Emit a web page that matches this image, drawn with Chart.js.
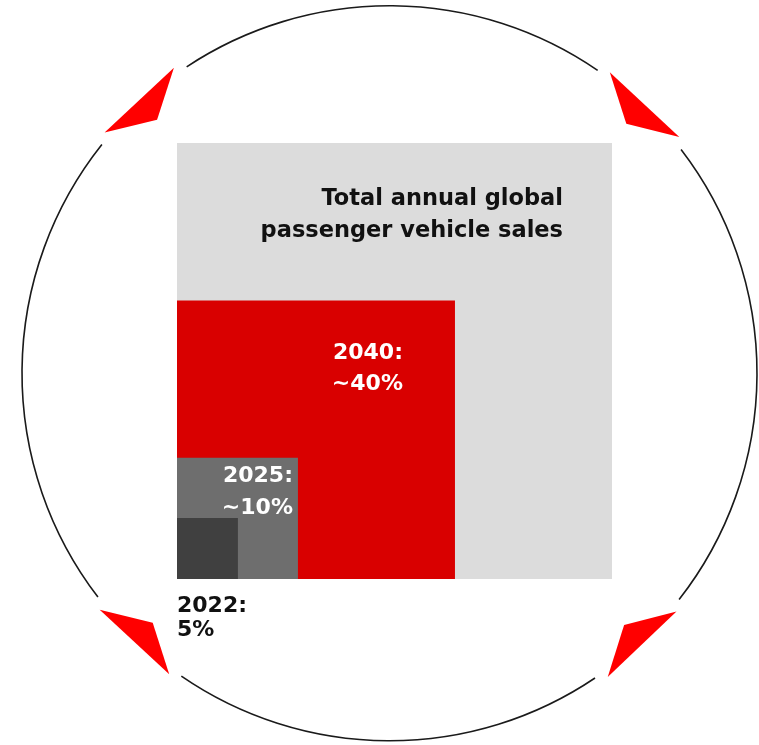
<!DOCTYPE html>
<html>
<head>
<meta charset="utf-8">
<script src="https://cdn.jsdelivr.net/npm/chart.js@4"></script>
<style>
  html, body { margin: 0; padding: 0; background: #ffffff; }
  #wrap { width: 759px; height: 745px; position: relative; }
</style>
</head>
<body>
<div id="wrap"><canvas id="salesChart"></canvas></div>
<script>
// Nested squares, all anchored at the bottom-left corner
const categories = ['2022', '2025', '2040', 'Total'];
const shareLabels = [['2022:', '5%'], ['2025:', '~10%'], ['2040:', '~40%'], ['Total annual global', 'passenger vehicle sales']];
// side length of each square relative to the total square
const sideShare = [0.14, 0.278, 0.639, 1.0];

const COLORS = ['#404040', '#6e6e6e', '#d90000', '#dcdcdc'];
const TEXT_COLORS = ['#111111', '#ffffff', '#ffffff', '#111111'];
const FONT = '"DejaVu Sans", sans-serif';

// label placement per square: anchor, x inset from right edge (px), first/second line offset (px)
const labelLayout = [
  { align: 'left',  dx: 0,  y1: 27, y2: 51, below: true },
  { align: 'right', dx: 5,  y1: 18, y2: 50 },
  { align: 'right', dx: 52, y1: 53, y2: 84 },
  { align: 'right', dx: 49, y1: 56, y2: 88 }
];

// circle with the red "viewfinder" corner marks
const viewfinder = {
  id: 'viewfinder',
  beforeDraw(chart) {
    const ctx = chart.ctx;
    const cx = 389.5, cy = 373.3, r = 367.5;
    const marks = [227.5, 313.5, 133.5, 47]; // degrees, canvas orientation
    const gap = 9;
    ctx.save();
    ctx.strokeStyle = '#1a1a1a';
    ctx.lineWidth = 1.6;
    const sorted = marks.slice().sort((a, b) => a - b);
    for (let i = 0; i < sorted.length; i++) {
      const a0 = sorted[i] + gap;
      const a1 = (i + 1 < sorted.length ? sorted[i + 1] : sorted[0] + 360) - gap;
      ctx.beginPath();
      ctx.arc(cx, cy, r, a0 * Math.PI / 180, a1 * Math.PI / 180);
      ctx.stroke();
    }
    ctx.fillStyle = '#ff0000';
    marks.forEach(m => {
      const pt = (deg, rad) => [cx + rad * Math.cos(deg * Math.PI / 180), cy + rad * Math.sin(deg * Math.PI / 180)];
      const a = pt(m - 7.3, 373), b = pt(m + 7.3, 374), c = pt(m, 344);
      ctx.beginPath();
      ctx.moveTo(a[0], a[1]);
      ctx.lineTo(b[0], b[1]);
      ctx.lineTo(c[0], c[1]);
      ctx.closePath();
      ctx.fill();
    });
    ctx.restore();
  }
};

const squareLabels = {
  id: 'squareLabels',
  afterDatasetsDraw(chart) {
    const ctx = chart.ctx;
    const xs = chart.scales.x, ys = chart.scales.y;
    ctx.save();
    ctx.textBaseline = 'middle';
    categories.forEach((cat, i) => {
      const lay = labelLayout[i];
      const right = xs.getPixelForValue(sideShare[i]);
      const top = lay.below ? ys.getPixelForValue(0) : ys.getPixelForValue(sideShare[i]);
      const x = lay.align === 'left' ? xs.getPixelForValue(0) : right - lay.dx;
      ctx.textAlign = lay.align;
      ctx.fillStyle = TEXT_COLORS[i];
      ctx.font = 'bold ' + (i === 3 ? 22.5 : 22) + 'px ' + FONT;
      ctx.fillText(shareLabels[i][0], x, top + lay.y1);
      ctx.fillText(shareLabels[i][1], x, top + lay.y2);
    });
    ctx.restore();
  }
};

new Chart(document.getElementById('salesChart'), {
  type: 'scatter',
  data: {
    datasets: categories.map((cat, i) => ({
      label: cat,
      data: [{ x: 0, y: sideShare[i] }, { x: sideShare[i], y: sideShare[i] }],
      showLine: true,
      fill: 'origin',
      backgroundColor: COLORS[i],
      borderWidth: 0,
      borderColor: COLORS[i],
      pointRadius: 0,
      pointHoverRadius: 0
    }))
  },
  options: {
    responsive: true,
    maintainAspectRatio: false,
    animation: false,
    layout: { padding: { left: 177, right: 147, top: 143, bottom: 166 } },
    scales: {
      x: { type: 'linear', min: 0, max: 1, display: false },
      y: { type: 'linear', min: 0, max: 1, display: false }
    },
    plugins: {
      legend: { display: false },
      tooltip: { enabled: false }
    }
  },
  plugins: [viewfinder, squareLabels]
});
</script>
</body>
</html>
